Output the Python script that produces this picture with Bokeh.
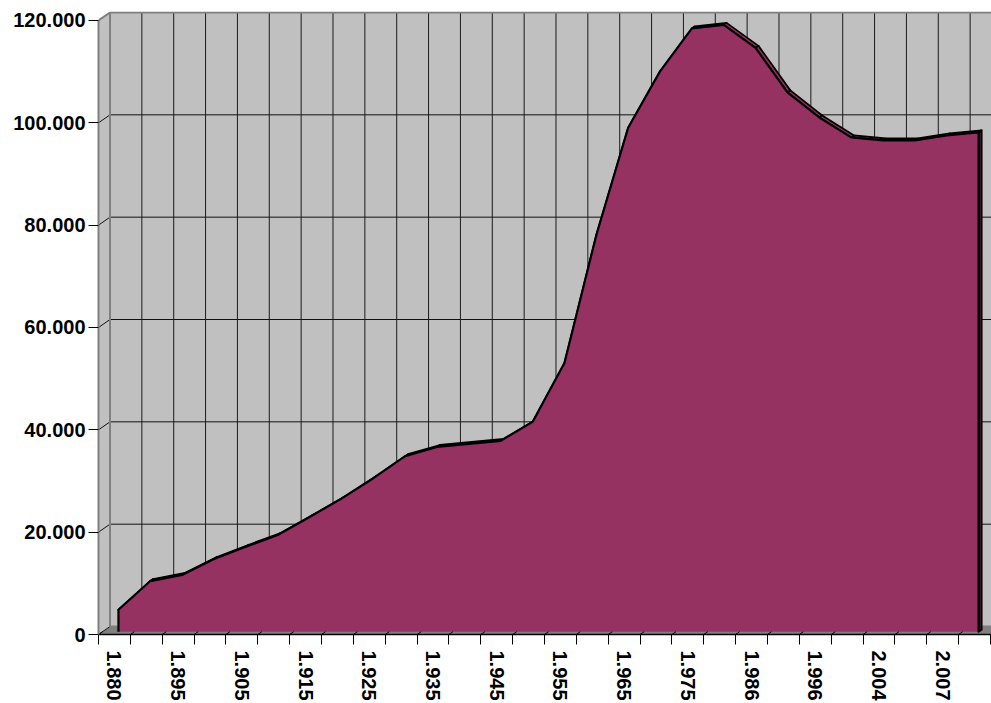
import math
from bokeh.plotting import figure
from bokeh.models import FixedTicker, Range1d
from bokeh.embed import file_html
from bokeh.resources import INLINE

# ---- data ----
values = [4300, 9900, 11100, 14200, 16600, 18900, 22400, 26000, 30000, 34300,
          36100, 36700, 37300, 41000, 52500, 77500, 98500, 109500, 117900, 118600,
          114100, 105400, 100500, 96600, 96000, 96000, 97000, 97600]
label_positions = [0, 2, 4, 6, 8, 10, 12, 14, 16, 18, 20, 22, 24, 26]
tick_labels = ["1.880", "1.895", "1.905", "1.915", "1.925", "1.935", "1.945",
               "1.955", "1.965", "1.975", "1.986", "1.996", "2.004", "2.007"]
y_ticks = [0, 20000, 40000, 60000, 80000, 100000, 120000]
y_tick_labels = ["0", "20.000", "40.000", "60.000", "80.000", "100.000", "120.000"]

n = len(values)

# ---- layout / 3D style constants ----
W, H = 991, 703
B_LEFT, B_TOP, B_BOTTOM = 98, 11, 68
frame_w = W - B_LEFT
frame_h = H - B_TOP - B_BOTTOM
px_per_cat = 31.857
px_per_val = 0.005125
x0 = -0.5
x1 = x0 + frame_w / px_per_cat
y1 = frame_h / px_per_val
DX = 11.5 / px_per_cat        # depth offset (x) of the back wall
DY = 8.0 / px_per_val         # depth offset (y) of the back wall
F1, F2 = 0.35, 0.6            # depth of area front / back faces

WALL = "#C0C0C0"
FLOOR = "#808080"
EDGE = "#808080"
PURPLE = "#963262"
FONT = "Liberation Sans"

p = figure(width=W, height=H, output_backend="svg", toolbar_location=None,
           x_range=Range1d(x0, x1), y_range=Range1d(0, y1),
           min_border_left=B_LEFT, min_border_right=0,
           min_border_top=B_TOP, min_border_bottom=B_BOTTOM)
p.outline_line_color = None
p.background_fill_color = "white"
p.border_fill_color = "white"
p.xgrid.visible = False
p.ygrid.visible = False

ymax = y_ticks[-1]
xr = n - 0.5 + 2  # beyond right edge of frame

# back wall
p.quad(left=[x0 + DX], right=[xr], bottom=[DY], top=[ymax + DY],
       fill_color=WALL, line_color=None)
# left wall
p.patch([x0, x0, x0 + DX, x0 + DX], [0, ymax, ymax + DY, DY],
        fill_color=WALL, line_color=None)
# floor
p.patch([x0, xr, xr + DX, x0 + DX], [0, 0, DY, DY],
        fill_color=FLOOR, line_color=None)

# back wall gridlines (horizontal + on the left wall)
p.segment(x0=[x0 + DX] * len(y_ticks), y0=[v + DY for v in y_ticks],
          x1=[xr] * len(y_ticks), y1=[v + DY for v in y_ticks],
          line_color="#111111", line_width=1)
p.segment(x0=[x0] * len(y_ticks), y0=y_ticks,
          x1=[x0 + DX] * len(y_ticks), y1=[v + DY for v in y_ticks],
          line_color="#111111", line_width=1)
# vertical gridlines at category boundaries
bounds = [k - 0.5 for k in range(n + 1)]
p.segment(x0=[b + DX for b in bounds], y0=[DY] * len(bounds),
          x1=[b + DX for b in bounds], y1=[ymax + DY] * len(bounds),
          line_color="#1a1a1a", line_width=1)

# wall edges
p.line([x0, x0 + DX, xr], [ymax, ymax + DY, ymax + DY], line_color=EDGE, line_width=2)
p.line([x0 + DX, x0 + DX, xr], [ymax + DY, DY, DY], line_color=EDGE, line_width=2)

# ---- 3D area ----
fx = [i + F1 * DX for i in range(n)]
fy = [v + F1 * DY for v in values]
bx = [i + F2 * DX for i in range(n)]
by = [v + F2 * DY for v in values]
base_f = F1 * DY
base_b = F2 * DY

# top surface strips
qx = [[fx[i], fx[i + 1], bx[i + 1], bx[i]] for i in range(n - 1)]
qy = [[fy[i], fy[i + 1], by[i + 1], by[i]] for i in range(n - 1)]
p.patches(qx, qy, fill_color=PURPLE, line_color="black", line_width=1.8,
          line_join="round")
# right end face
p.patch([fx[-1], bx[-1], bx[-1], fx[-1]], [base_f, base_b, by[-1], fy[-1]],
        fill_color=PURPLE, line_color="black", line_width=2.2, line_join="round")
# front face
p.patch([fx[0]] + fx + [fx[-1]], [base_f] + fy + [base_f],
        fill_color=PURPLE, line_color=None)
p.line([fx[0]] + fx + [fx[-1]], [base_f] + fy + [base_f],
       line_color="black", line_width=2.2, line_join="round")

# floor lines in front of the area
p.segment(x0=bounds, y0=[0] * len(bounds),
          x1=[b + F1 * DX for b in bounds], y1=[base_f] * len(bounds),
          line_color="black", line_width=1)

# ---- axes ----
ya = p.yaxis[0]
ya.ticker = FixedTicker(ticks=y_ticks)
ya.major_label_overrides = dict(zip(y_ticks, y_tick_labels))
ya.bounds = (0, ymax)
ya.axis_line_color = EDGE
ya.axis_line_width = 2
ya.major_tick_out = 10
ya.major_tick_in = 0
ya.major_tick_line_color = "black"
ya.minor_tick_line_color = None
ya.major_label_standoff = 3
ya.major_label_text_font = FONT
ya.major_label_text_font_style = "bold"
ya.major_label_text_font_size = "20px"
ya.major_label_text_color = "black"

xa = p.xaxis[0]
xa.ticker = FixedTicker(ticks=label_positions, minor_ticks=bounds)
xa.major_label_overrides = dict(zip(label_positions, tick_labels))
xa.bounds = (x0, n - 0.5 + 1)
xa.axis_line_color = "black"
xa.axis_line_width = 1.5
xa.major_tick_line_color = None
xa.major_tick_out = 10
xa.major_tick_in = 0
xa.minor_tick_out = 10
xa.minor_tick_in = 0
xa.minor_tick_line_color = "black"
xa.major_label_orientation = -math.pi / 2
xa.major_label_standoff = 6
xa.major_label_text_font = FONT
xa.major_label_text_font_style = "bold"
xa.major_label_text_font_size = "20px"
xa.major_label_text_color = "black"

open("out.html", "w").write(file_html(p, INLINE))
